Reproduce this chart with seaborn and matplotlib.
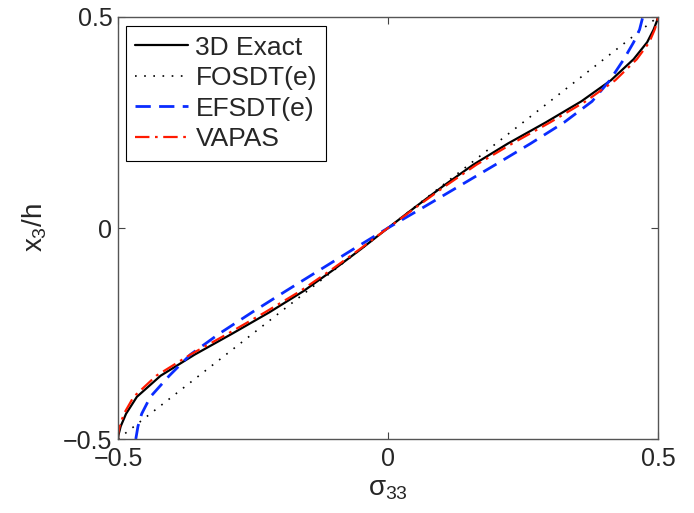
import matplotlib
matplotlib.use("Agg")
import matplotlib.pyplot as plt
import seaborn as sns
import pandas as pd

# ---- data ----
exact_x = [-0.5, -0.499, -0.495, -0.485, -0.465, -0.421, -0.358, -0.288, -0.22, -0.157, -0.102, -0.05, 0.0,
           0.051, 0.103, 0.158, 0.222, 0.292, 0.358, 0.413, 0.455, 0.480, 0.492, 0.498, 0.5]
exact_y = [-0.5, -0.49, -0.47, -0.44, -0.4, -0.35, -0.3, -0.25, -0.2, -0.15, -0.1, -0.05, 0.0,
           0.05, 0.1, 0.15, 0.2, 0.25, 0.3, 0.35, 0.4, 0.44, 0.47, 0.49, 0.5]

fosdt_x = [-0.5, 0.5]
fosdt_y = [-0.5, 0.5]

efsdt_x = [-0.467, -0.463, -0.456, -0.44, -0.405, -0.366, -0.312, -0.252, -0.19, -0.127, -0.064, 0.0,
           0.067, 0.133, 0.199, 0.264, 0.326, 0.378, 0.411, 0.437, 0.455, 0.466, 0.472]
efsdt_y = [-0.5, -0.47, -0.44, -0.4, -0.35, -0.3, -0.25, -0.2, -0.15, -0.1, -0.05, 0.0,
           0.05, 0.1, 0.15, 0.2, 0.25, 0.3, 0.35, 0.4, 0.44, 0.47, 0.5]

vapas_x = [-0.5, -0.5, -0.497, -0.489, -0.471, -0.429, -0.366, -0.296, -0.228, -0.163, -0.106, -0.052, 0.0,
           0.053, 0.107, 0.164, 0.230, 0.300, 0.366, 0.421, 0.461, 0.484, 0.494, 0.499, 0.5]
vapas_y = [-0.5, -0.49, -0.47, -0.44, -0.4, -0.35, -0.3, -0.25, -0.2, -0.15, -0.1, -0.05, 0.0,
           0.05, 0.1, 0.15, 0.2, 0.25, 0.3, 0.35, 0.4, 0.44, 0.47, 0.49, 0.5]

labels = ["3D Exact", "FOSDT(e)", "EFSDT(e)", "VAPAS"]
ticks = [-0.5, 0, 0.5]
tick_labels = ["\u22120.5", "0", "0.5"]

# ---- style ----
sns.set_style("ticks")
plt.rcParams["font.family"] = ["Liberation Sans", "DejaVu Sans"]
plt.rcParams["mathtext.fontset"] = "custom"
plt.rcParams["mathtext.rm"] = "Liberation Sans"
plt.rcParams["mathtext.it"] = "Liberation Sans"
plt.rcParams["mathtext.bf"] = "Liberation Sans"

fig = plt.figure(figsize=(6.94, 5.13), dpi=100)
ax = fig.add_axes([0.170, 0.1442, 0.778, 0.8227])

series = [
    (exact_x, exact_y, dict(color="black", lw=1.6, ls="-")),
    (fosdt_x, fosdt_y, dict(color="black", lw=1.2, ls=(0, (1, 4.5)))),
    (efsdt_x, efsdt_y, dict(color="#0a2cff", lw=2.0, ls=(0, (5.5, 3.0)))),
    (vapas_x, vapas_y, dict(color="#ff1a00", lw=1.6, ls=(0, (6.5, 2.5, 1.2, 2.5)))),
]
for (xs, ys, st), lab in zip(series, labels):
    df = pd.DataFrame({"s": xs, "z": ys})
    sns.lineplot(data=df, x="s", y="z", sort=False, estimator=None, ax=ax,
                 label=lab, **st)

ax.set_xlim(-0.5, 0.5)
ax.set_ylim(-0.5, 0.5)
ax.set_xticks(ticks)
ax.set_yticks(ticks)
ax.set_xticklabels(tick_labels)
ax.set_yticklabels(tick_labels)
ax.tick_params(direction="in", top=True, right=True, length=5, width=0.8,
               color="#444444", labelsize=18)
ax.tick_params(axis="x", pad=6)
ax.tick_params(axis="y", pad=4)
for sp in ax.spines.values():
    sp.set_visible(True)
    sp.set_color("#555555")
    sp.set_linewidth(1.0)

ax.set_xlabel(r"$\sigma_{33}$", fontsize=20, labelpad=3)
ax.set_ylabel(r"$x_3/h$", fontsize=20, labelpad=10)

leg = ax.legend(loc="upper left", bbox_to_anchor=(0.014, 0.978), fontsize=19,
                frameon=True, fancybox=False, framealpha=1, edgecolor="black",
                handlelength=2.0, handletextpad=0.3, labelspacing=0.25,
                borderpad=0.35, borderaxespad=0.0)
leg.get_frame().set_linewidth(0.8)

fig.savefig("out.png", dpi=100)
